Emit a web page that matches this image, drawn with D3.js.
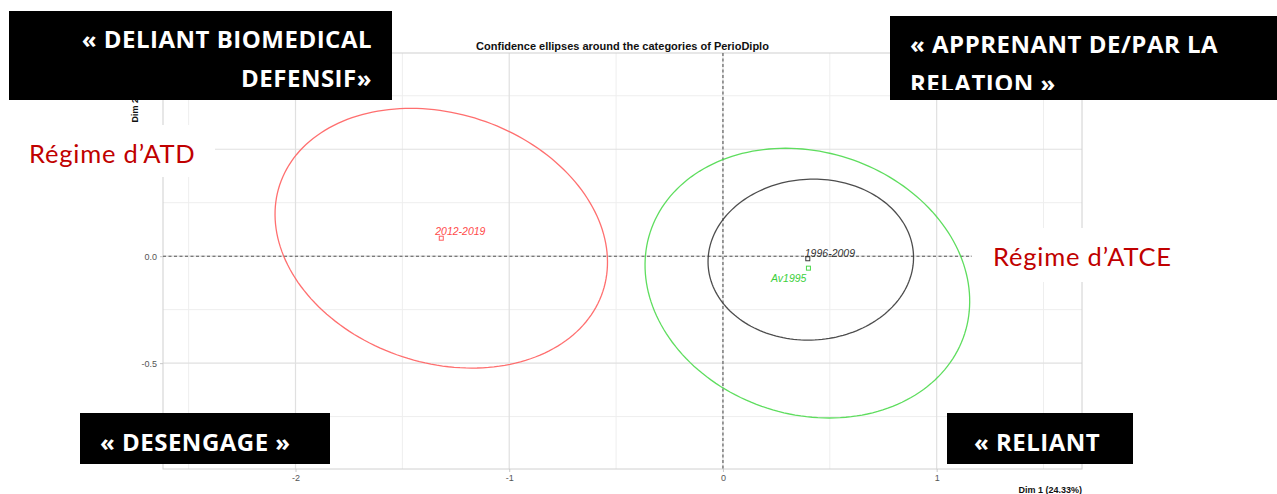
<!DOCTYPE html>
<html>
<head>
<meta charset="utf-8">
<script src="https://cdn.jsdelivr.net/npm/d3@7"></script>
<style>
  body { margin: 0; background: #fff; }
  svg { display: block; font-family: "Liberation Sans", Arial, sans-serif; }
</style>
</head>
<body>
<svg id="chart"></svg>
<script>
// categories of PerioDiplo and their coordinates on Dim 1 / Dim 2
var categories = ['Av1995', '1996-2009', '2012-2019'];
var dim1 = [0.400, 0.397, -1.318];
var dim2 = [-0.056, -0.012, 0.084];
var colors = ['#4cd94c', '#3a3a3a', '#ff5f5f'];
var labelColors = ['#3ccf3c', '#333', '#ff4a4a'];

// confidence ellipses: centre, semi axes and tilt (degrees) in data units
var ellCx = [0.395, 0.411, -1.318];
var ellCy = [-0.126, -0.016, 0.084];
var ellA = [0.773, 0.481, 0.796];
var ellB = [0.614, 0.376, 0.583];
var ellAngle = [-17.8, 3, -18.2];

// tick values (0.5 label sits under the "Régime d'ATD" note)
var xTicks = [-2, -1, 0, 1];
var xMinor = [-2.5, -1.5, -0.5, 0.5, 1.5];
var yGrid = [-0.5, 0, 0.5];
var yTicks = [-0.5, 0];
var yMinor = [-0.75, -0.25, 0.25, 0.75];

var xTitle = 'Dim 1 (24.33%)';
var yTitle = 'Dim 2 (16.87%)';
var title = 'Confidence ellipses around the categories of PerioDiplo';

var W = 1277, H = 494;
var panel = {left: 163, right: 1082, top: 53, bottom: 469};

var svg = d3.select('#chart')
    .attr('width', W)
    .attr('height', H);

var x = d3.scaleLinear()
    .domain([-2.62, 1.68])
    .range([panel.left, panel.right]);

var y = d3.scaleLinear()
    .domain([-0.995, 0.95])
    .range([panel.bottom, panel.top]);

var g = svg.append('g');

// grid
g.selectAll('.xminor').data(xMinor).enter().append('line')
    .attr('x1', d => x(d)).attr('x2', d => x(d))
    .attr('y1', panel.top).attr('y2', panel.bottom)
    .attr('stroke', '#eeeeee').attr('stroke-width', 1);
g.selectAll('.yminor').data(yMinor).enter().append('line')
    .attr('y1', d => y(d)).attr('y2', d => y(d))
    .attr('x1', panel.left).attr('x2', panel.right)
    .attr('stroke', '#eeeeee').attr('stroke-width', 1);
g.selectAll('.xmajor').data(xTicks).enter().append('line')
    .attr('x1', d => x(d)).attr('x2', d => x(d))
    .attr('y1', panel.top).attr('y2', panel.bottom)
    .attr('stroke', '#e0e0e0').attr('stroke-width', 1.2);
g.selectAll('.ymajor').data(yGrid).enter().append('line')
    .attr('y1', d => y(d)).attr('y2', d => y(d))
    .attr('x1', panel.left).attr('x2', panel.right)
    .attr('stroke', '#e0e0e0').attr('stroke-width', 1.2);

// panel border
g.append('rect')
    .attr('x', panel.left).attr('y', panel.top)
    .attr('width', panel.right - panel.left)
    .attr('height', panel.bottom - panel.top)
    .attr('fill', 'none')
    .attr('stroke', '#d0d0d0');

// axes
var xAxis = g.append('g')
    .attr('transform', 'translate(0,' + panel.bottom + ')')
    .call(d3.axisBottom(x).tickValues(xTicks).tickSize(3).tickPadding(3).tickFormat(d3.format('d')));
var yAxis = g.append('g')
    .attr('transform', 'translate(' + panel.left + ',0)')
    .call(d3.axisLeft(y).tickValues(yTicks).tickSize(3).tickPadding(3).tickFormat(d3.format('.1f')));
[xAxis, yAxis].forEach(function(a) {
    a.select('.domain').remove();
    a.selectAll('line').attr('stroke', '#c8c8c8');
    a.selectAll('text').attr('fill', '#555').style('font-size', '9px')
        .text(function() { return this.textContent.replace('−', '-'); });
});

// dashed zero lines
g.append('line')
    .attr('x1', panel.left).attr('x2', panel.right)
    .attr('y1', y(0)).attr('y2', y(0))
    .attr('stroke', '#555').attr('stroke-dasharray', '3,2.5').attr('stroke-width', 1.1);
g.append('line')
    .attr('x1', x(0)).attr('x2', x(0))
    .attr('y1', panel.top).attr('y2', panel.bottom)
    .attr('stroke', '#555').attr('stroke-dasharray', '3,2.5').attr('stroke-width', 1.1);

// ellipses
var steps = d3.range(0, 2 * Math.PI + 0.001, Math.PI / 90);
var line = d3.line()
    .x(d => x(d[0]))
    .y(d => y(d[1]))
    .curve(d3.curveLinearClosed);

categories.forEach(function(c, i) {
    var phi = ellAngle[i] * Math.PI / 180;
    var pts = steps.map(function(t) {
        var ex = ellA[i] * Math.cos(t), ey = ellB[i] * Math.sin(t);
        return [ellCx[i] + ex * Math.cos(phi) - ey * Math.sin(phi),
                ellCy[i] + ex * Math.sin(phi) + ey * Math.cos(phi)];
    });
    g.append('path')
        .attr('d', line(pts))
        .attr('fill', 'none')
        .attr('stroke', colors[i])
        .attr('stroke-opacity', 0.9)
        .attr('stroke-width', 1.3);
});

// category points and labels
var nudge = {'Av1995': [-2, 14, 'end'], '1996-2009': [-3, -2, 'start'], '2012-2019': [-6, -3, 'start']};
categories.forEach(function(c, i) {
    g.append('rect')
        .attr('x', x(dim1[i]) - 2).attr('y', y(dim2[i]) - 2)
        .attr('width', 4).attr('height', 4)
        .attr('fill', 'none')
        .attr('stroke', colors[i]).attr('stroke-width', 1);
    g.append('text')
        .attr('x', x(dim1[i]) + nudge[c][0])
        .attr('y', y(dim2[i]) + nudge[c][1])
        .attr('text-anchor', nudge[c][2])
        .attr('fill', labelColors[i])
        .style('font-size', '10.5px')
        .style('font-style', 'italic')
        .text(c);
});

// titles
svg.append('text')
    .attr('x', (panel.left + panel.right) / 2).attr('y', 50)
    .attr('text-anchor', 'middle')
    .style('font-size', '11px').style('font-weight', 'bold')
    .attr('fill', '#111')
    .text(title);
svg.append('text')
    .attr('x', panel.right).attr('y', 493)
    .attr('text-anchor', 'end')
    .style('font-size', '9px').style('font-weight', 'bold')
    .attr('fill', '#111')
    .text(xTitle);
svg.append('text')
    .attr('transform', 'translate(138,' + (panel.top + 6) + ') rotate(-90)')
    .attr('text-anchor', 'end')
    .style('font-size', '9px').style('font-weight', 'bold')
    .attr('fill', '#111')
    .text(yTitle);

// annotation layer pasted on top of the chart
function regime(txt, bx, by, bw, bh, tx, ty) {
    svg.append('rect').attr('x', bx).attr('y', by).attr('width', bw).attr('height', bh).attr('fill', '#fff');
    svg.append('text').attr('x', tx).attr('y', ty)
        .attr('fill', '#c00000')
        .style('font-family', 'Lato, "Open Sans", sans-serif')
        .style('font-size', '25.5px')
        .style('letter-spacing', '0.8px')
        .text(txt);
}
regime('Régime d’ATD', 10, 125, 205, 52, 29, 163);
regime('Régime d’ATCE', 972, 228, 218, 54, 993, 266);

svg.append('clipPath').attr('id', 'clip2')
    .append('rect').attr('x', 890).attr('y', 16).attr('width', 387).attr('height', 74);

function blackBox(lines, bx, by, bw, bh, tx, ty, anchor, clip) {
    svg.append('rect').attr('x', bx).attr('y', by).attr('width', bw).attr('height', bh).attr('fill', '#000');
    var t = svg.append('text')
        .attr('fill', '#fff')
        .attr('text-anchor', anchor)
        .style('font-family', '"Open Sans", Lato, sans-serif')
        .style('font-weight', 'bold')
        .style('font-size', '24px')
        .style('letter-spacing', '0.5px');
    if (clip) t.attr('clip-path', 'url(#' + clip + ')');
    lines.forEach(function(l, k) {
        t.append('tspan').attr('x', tx).attr('y', ty + k * 39).text(l);
    });
}
blackBox(['« DELIANT BIOMEDICAL', 'DEFENSIF»'], 9, 11, 383, 89, 372, 48, 'end');
blackBox(['« APPRENANT DE/PAR LA', 'RELATION »'], 890, 16, 387, 84, 910, 53, 'start', 'clip2');
blackBox(['« DESENGAGE »'], 80, 413, 250, 51, 100, 451, 'start');
blackBox(['« RELIANT'], 947, 413, 186, 51, 974, 451, 'start');
</script>
</body>
</html>
